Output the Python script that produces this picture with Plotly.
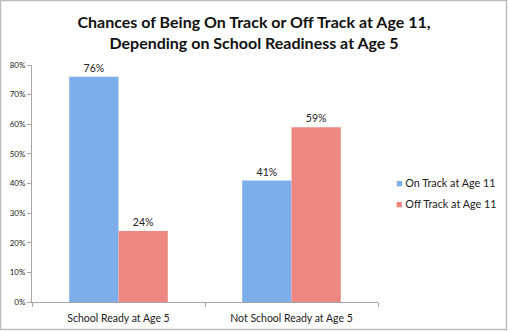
import plotly.graph_objects as go

categories = ["School Ready at Age 5", "Not School Ready at Age 5"]
on_track = [76, 41]
off_track = [24, 59]
series_names = ["On Track at Age 11", "Off Track at Age 11"]
series_colors = ["#7eaeea", "#ec8881"]
y_tick_vals = [0, 10, 20, 30, 40, 50, 60, 70, 80]
y_tick_text = ["0%", "10%", "20%", "30%", "40%", "50%", "60%", "70%", "80%"]

FONT = "Lato, Open Sans, sans-serif"

fig = go.Figure()
for vals, name, col in zip([on_track, off_track], series_names, series_colors):
    fig.add_trace(go.Bar(
        x=categories, y=vals, name=name,
        marker=dict(color=col, line=dict(width=0)),
        texttemplate="%{y}%", textposition="outside",
        textfont=dict(size=10.5, color="#222", family=FONT), cliponaxis=False,
        showlegend=False,
    ))

L, R, T, B = 32, 130, 65, 29
W, H = 508, 331
pw, ph = W - L - R, H - T - B

legend_ann = []
for i, (name, col) in enumerate(zip(series_names, series_colors)):
    legend_ann.append(dict(
        xref="paper", yref="paper",
        x=(394 - L) / pw, y=(302 - (182 + 21 * i)) / ph,
        xanchor="left", yanchor="middle", showarrow=False,
        text=f'<span style="color:{col}">■</span> {name}',
        font=dict(size=10.8, family=FONT, color="#222"),
    ))

fig.update_layout(
    width=W, height=H,
    margin=dict(l=L, r=R, t=T, b=B, pad=0, autoexpand=False),
    paper_bgcolor="white", plot_bgcolor="white",
    barmode="group", bargap=0.43, bargroupgap=0,
    font=dict(family=FONT, color="#222"),
    title=dict(
        text="<b>Chances of Being On Track or Off Track at Age 11,<br>Depending on School Readiness at Age 5</b>",
        x=0.5, xref="container", xanchor="center",
        y=1 - 28 / H, yref="container", yanchor="middle",
        font=dict(size=16, family=FONT, color="#111"),
    ),
    showlegend=False,
    annotations=legend_ann,
    xaxis=dict(
        showline=True, linecolor="#a6a6a6", linewidth=1,
        ticks="outside", tickson="boundaries", ticklen=4, tickcolor="#a6a6a6",
        tickfont=dict(size=10.5, family=FONT, color="#222"),
        ticklabelstandoff=6,
        showgrid=False, zeroline=False,
    ),
    yaxis=dict(
        range=[0, 80], tickvals=y_tick_vals, ticktext=y_tick_text,
        showline=True, linecolor="#a6a6a6", linewidth=1,
        ticks="outside", ticklen=4, tickcolor="#a6a6a6",
        tickfont=dict(size=8, family=FONT, color="#222"),
        showgrid=False, zeroline=False,
    ),
    shapes=[dict(
        type="rect", xref="paper", yref="paper",
        x0=(0.5 - L) / pw, x1=(W - 1.5 - L) / pw,
        y0=(ph - (H - 1.5 - T)) / ph, y1=(ph - (0.5 - T)) / ph,
        line=dict(color="#bdbdbd", width=1.5), fillcolor="rgba(0,0,0,0)",
        layer="below",
    )],
)

fig.write_html("out.html")
